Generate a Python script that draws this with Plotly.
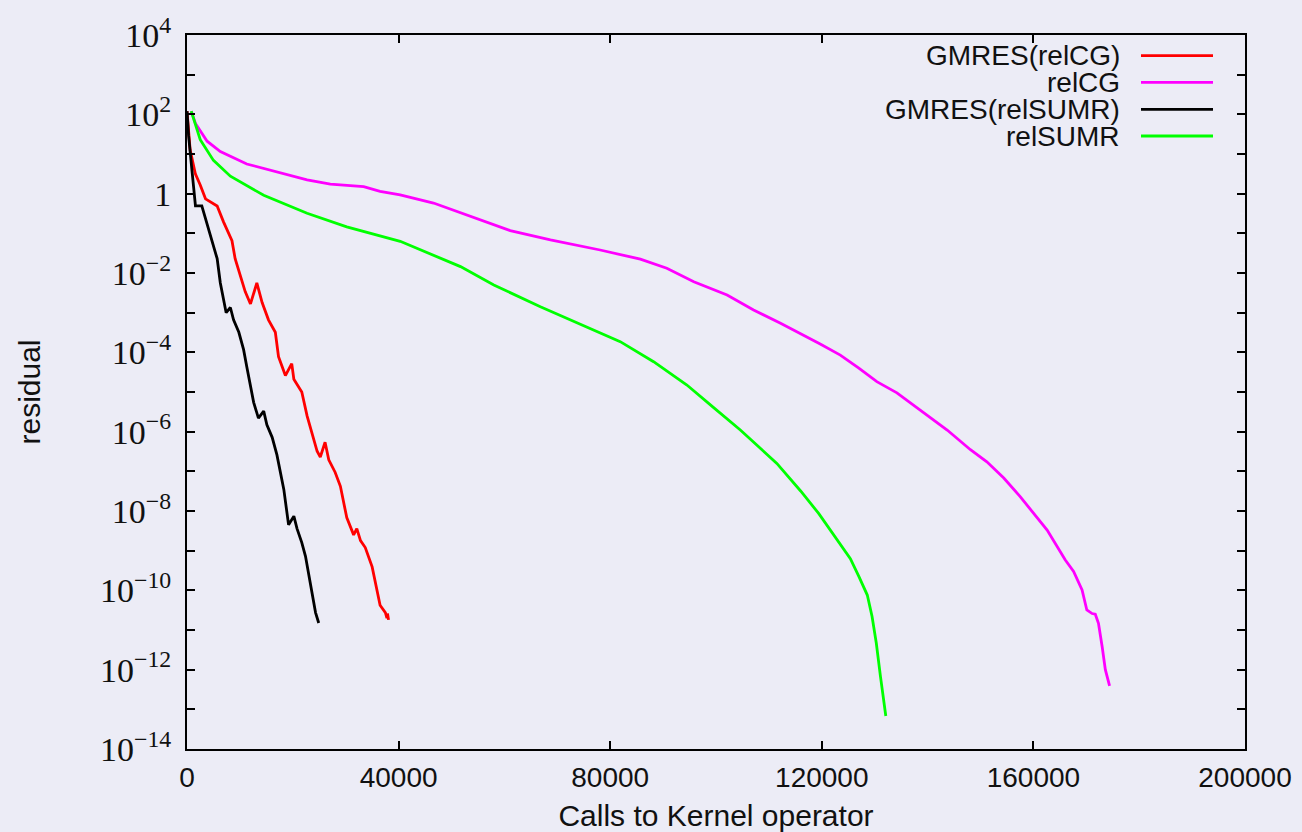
import plotly.graph_objects as go

# ---------------- data ----------------
gmres_relcg_x = [0, 600, 1600, 2500, 3500, 5700, 6900, 8500, 9100, 10100, 11000, 12000,
                 13200, 14200, 15400, 16700, 17300, 18600, 19800, 20200, 21700, 22700,
                 23600, 24600, 25200, 26100, 26800, 28000, 29000, 30200, 31500, 32100,
                 32800, 33700, 35000, 35900, 36500, 37500, 37800, 37900, 38100]
gmres_relcg_y = [1.2e2, 1.26e1, 3.1, 1.66, 0.74, 0.49, 0.195, 6.5e-2, 2.3e-2, 8.3e-3, 3.4e-3, 1.66e-3,
                 5.6e-3, 1.8e-3, 6.6e-4, 3.2e-4, 7.8e-5, 2.6e-5, 5.2e-5, 2.1e-5, 1.0e-5, 2.5e-6,
                 8.9e-7, 3.2e-7, 2.3e-7, 5.4e-7, 1.95e-7, 9.5e-8, 4.2e-8, 6.8e-9, 2.5e-9, 3.6e-9,
                 1.8e-9, 1.2e-9, 3.9e-10, 9.3e-11, 4.2e-11, 2.75e-11, 2.0e-11, 2.6e-11, 1.8e-11]

relcg_x = [800, 1600, 3800, 6300, 11300, 17600, 22700, 27100, 33400, 36500, 40300, 46600,
           52900, 58600, 61100, 68700, 78100, 85700, 90700, 95800, 102100, 107100, 112200,
           119700, 123500, 127000, 130400, 134200, 138600, 143700, 148100, 151200, 154400,
           157500, 162600, 166000, 167600, 169200, 170100, 171100, 171700, 172300, 173000,
           173600, 174400]
relcg_y = [1.2e2, 5.9e1, 2.1e1, 1.15e1, 5.6, 3.4, 2.24, 1.74, 1.51, 1.15, 0.93, 0.58,
           0.29, 0.148, 0.117, 6.8e-2, 3.8e-2, 2.24e-2, 1.32e-2, 6.0e-3, 2.8e-3, 1.17e-3, 5.4e-4,
           1.62e-4, 8.5e-5, 4.0e-5, 1.82e-5, 9.5e-6, 3.5e-6, 1.1e-6, 3.5e-7, 1.74e-7, 6.8e-8,
           2.3e-8, 3.3e-9, 5.9e-10, 3.0e-10, 1.02e-10, 3.2e-11, 2.6e-11, 2.5e-11, 1.48e-11, 3.8e-12,
           1.0e-12, 3.9e-13]

gmres_relsumr_x = [0, 300, 950, 1600, 2800, 3800, 4700, 5700, 6300, 6900, 7400, 8200, 8800,
                   9800, 10700, 11300, 12000, 12600, 13500, 14500, 15100, 16100, 17000, 17600,
                   18300, 19200, 20200, 20800, 21700, 22400, 23000, 23600, 24300, 24900]
gmres_relsumr_y = [1.2e2, 2.9e1, 3.7, 0.49, 0.49, 0.178, 6.5e-2, 2.3e-2, 5.6e-3, 2.0e-3, 1.0e-3, 1.35e-3, 6.6e-4,
                   3.2e-4, 1.17e-4, 4.3e-5, 1.55e-5, 5.5e-6, 2.2e-6, 3.3e-6, 1.48e-6, 7.2e-7, 2.6e-7, 9.5e-8,
                   3.5e-8, 4.5e-9, 7.4e-9, 3.6e-9, 1.6e-9, 7.2e-10, 2.6e-10, 7.8e-11, 2.75e-11, 1.5e-11]

relsumr_x = [800, 2500, 5000, 8200, 14500, 22700, 30200, 40300, 51700, 58000, 66800, 78100,
             81900, 88200, 94500, 99500, 104600, 111500, 116000, 119400, 122900, 125400,
             127000, 128600, 129500, 130300, 131100, 132100]
relsumr_y = [1.2e2, 2.3e1, 6.9, 2.75, 0.91, 0.32, 0.145, 6.3e-2, 1.45e-2, 5.0e-3, 1.41e-3, 3.0e-4,
             1.86e-4, 5.8e-5, 1.5e-5, 4.1e-6, 1.1e-6, 1.58e-7, 3.2e-8, 8.7e-9, 1.86e-9, 6.3e-10,
             2.24e-10, 7.6e-11, 2.2e-11, 4.7e-12, 6.6e-13, 6.8e-14]

series_names = ["GMRES(relCG)", "relCG", "GMRES(relSUMR)", "relSUMR"]
series_colors = ["#ff0000", "#ff00ff", "#000000", "#00ff00"]

x_tick_vals = [0, 40000, 80000, 120000, 160000, 200000]
x_tick_text = ["0", "40000", "80000", "120000", "160000", "200000"]
y_major_exponents = [-14, -12, -10, -8, -6, -4, -2, 0, 2, 4]
y_minor_exponents = [-13, -11, -9, -7, -5, -3, -1, 1, 3]

# ---------------- figure ----------------
BG = "#ececf6"
series = [(gmres_relcg_x, gmres_relcg_y), (relcg_x, relcg_y),
          (gmres_relsumr_x, gmres_relsumr_y), (relsumr_x, relsumr_y)]

fig = go.Figure()
for (xs, ys), name, col in zip(series, series_names, series_colors):
    fig.add_trace(go.Scatter(x=xs, y=ys, mode="lines", name=name,
                             line=dict(color=col, width=2.8), showlegend=False))

def ylab(e):
    if e == 0:
        return "1"
    return "10<sup>" + str(e).replace("-", "\u2212") + "</sup>"

y_tick_vals = [10.0 ** e for e in y_major_exponents]
y_tick_text = [ylab(e) for e in y_major_exponents]
y_minor_vals = [10.0 ** e for e in y_minor_exponents]

L, R, T, B = 187, 1245, 35, 749
W, H = 1302, 832

fig.update_layout(
    width=W, height=H,
    margin=dict(l=L, r=W - R, t=T, b=H - B, autoexpand=False),
    paper_bgcolor=BG, plot_bgcolor=BG,
    showlegend=False,
    font=dict(family="Liberation Sans", color="#111111"),
)
fig.update_xaxes(
    range=[0, 200000], tickvals=x_tick_vals, ticktext=x_tick_text,
    ticks="inside", ticklen=8, tickwidth=1.5, tickcolor="black",
    showline=True, linecolor="black", linewidth=2, mirror="ticks",
    showgrid=False, zeroline=False,
    tickfont=dict(family="Liberation Sans", size=28, color="#111111"),
    ticklabelstandoff=2,
    title=dict(text="Calls to Kernel operator",
               font=dict(family="Liberation Sans", size=30, color="#111111"),
               standoff=13),
)
fig.update_yaxes(
    type="log", range=[-14, 4], tickvals=y_tick_vals, ticktext=y_tick_text,
    ticks="inside", ticklen=8, tickwidth=1.5, tickcolor="black",
    minor=dict(tickmode="array", tickvals=y_minor_vals, ticks="inside",
               ticklen=8, tickwidth=1.5, tickcolor="black", showgrid=False),
    showline=True, linecolor="black", linewidth=2, mirror="ticks",
    showgrid=False, zeroline=False,
    tickfont=dict(family="Liberation Serif", size=34, color="#111111"),
    ticklabelstandoff=7,
    title=dict(text="residual",
               font=dict(family="Liberation Sans", size=30, color="#111111"),
               standoff=50),
)

# legend drawn gnuplot-style: right-aligned text with the line sample on its right
def px2paper_x(px):
    return (px - L) / (R - L)

def py2paper_y(py):
    return (B - py) / (B - T)

legend_rows_py = [55.7, 82.3, 109.3, 136.0]
for name, col, py in zip(series_names, series_colors, legend_rows_py):
    fig.add_annotation(x=px2paper_x(1122), y=py2paper_y(py), xref="paper", yref="paper",
                       text=name, showarrow=False, xanchor="right", yanchor="middle",
                       font=dict(family="Liberation Sans", size=28, color="#111111"))
    fig.add_shape(type="line", xref="paper", yref="paper",
                  x0=px2paper_x(1141), x1=px2paper_x(1213),
                  y0=py2paper_y(py), y1=py2paper_y(py),
                  line=dict(color=col, width=2.8))

fig.write_html("out.html")
